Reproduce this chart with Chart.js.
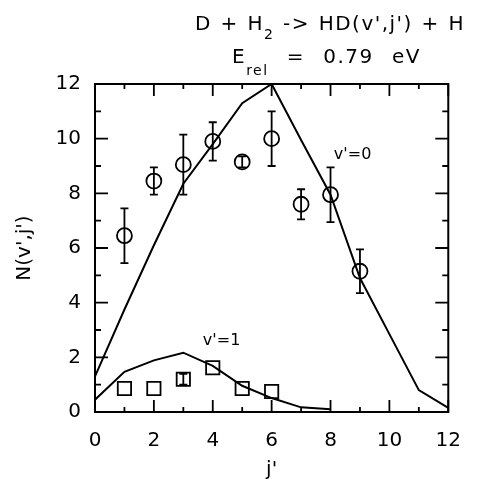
<!DOCTYPE html>
<html>
<head>
<meta charset="utf-8">
<script src="https://cdn.jsdelivr.net/npm/chart.js@4.4.1/dist/chart.umd.min.js"></script>
<style>
  html, body { margin: 0; padding: 0; background: #fff; }
  #wrap { width: 478px; height: 482px; }
</style>
</head>
<body>
<div id="wrap"><canvas id="myChart" width="478" height="482"></canvas></div>
<script>
// j' values and populations
const jCalc = [0, 1, 2, 3, 4, 5, 6, 7, 8, 9, 10, 11, 12];
const calcV0 = [1.3, 3.75, 6.1, 8.35, 9.8, 11.3, 12.0, 9.95, 7.95, 4.9, 2.85, 0.8, 0.15];
const jCalcV1 = [0, 1, 2, 3, 4, 5, 6, 7, 8];
const calcV1 = [0.45, 1.47, 1.89, 2.17, 1.69, 0.96, 0.51, 0.17, 0.1];

const jExpV0 = [1, 2, 3, 4, 5, 6, 7, 8, 9];
const expV0 = [6.45, 8.45, 9.05, 9.9, 9.15, 10.0, 7.6, 7.95, 5.15];
const errV0 = [1.0, 0.5, 1.1, 0.7, 0.2, 1.0, 0.55, 1.0, 0.8];

const jExpV1 = [1, 2, 3, 4, 5, 6];
const expV1 = [0.86, 0.86, 1.2, 1.62, 0.86, 0.75];
const errV1 = [0, 0, 0.2, 0, 0, 0];

const xTicks = [0, 2, 4, 6, 8, 10, 12];
const yTicks = [0, 2, 4, 6, 8, 10, 12];

const FONT = 'DejaVu Sans';
const toXY = (xs, ys) => xs.map((x, i) => ({ x: x, y: ys[i] }));

// inward tick marks on all four sides + top/right frame
const frame = {
    id: 'frame',
    afterDraw(chart) {
        const { ctx, chartArea: a, scales: { x, y } } = chart;
        ctx.save();
        ctx.strokeStyle = '#000';
        ctx.lineWidth = 2;
        ctx.strokeRect(a.left, a.top, a.right - a.left, a.bottom - a.top);
        ctx.lineWidth = 1.8;
        for (let v = 0; v <= 12; v++) {
            const px = x.getPixelForValue(v);
            const len = v % 2 === 0 ? 12 : 5;
            ctx.beginPath();
            ctx.moveTo(px, a.bottom); ctx.lineTo(px, a.bottom - len);
            ctx.moveTo(px, a.top); ctx.lineTo(px, a.top + len);
            ctx.stroke();
            const py = y.getPixelForValue(v);
            ctx.beginPath();
            ctx.moveTo(a.left, py); ctx.lineTo(a.left + len + 1, py);
            ctx.moveTo(a.right, py); ctx.lineTo(a.right - len - 1, py);
            ctx.stroke();
        }
        ctx.restore();
    }
};

const errorBars = {
    id: 'errorBars',
    afterDatasetsDraw(chart) {
        const { ctx, scales: { x, y } } = chart;
        ctx.save();
        ctx.strokeStyle = '#000';
        ctx.lineWidth = 1.8;
        chart.data.datasets.forEach(ds => {
            if (!ds.errors) return;
            ds.data.forEach((p, i) => {
                const e = ds.errors[i];
                if (!e) return;
                const px = x.getPixelForValue(p.x);
                const y1 = y.getPixelForValue(p.y + e);
                const y2 = y.getPixelForValue(p.y - e);
                ctx.beginPath();
                ctx.moveTo(px, y1); ctx.lineTo(px, y2);
                ctx.moveTo(px - 4, y1); ctx.lineTo(px + 4, y1);
                ctx.moveTo(px - 4, y2); ctx.lineTo(px + 4, y2);
                ctx.stroke();
            });
        });
        ctx.restore();
    }
};

// title lines: words separated by wide gaps, subscripts drawn smaller and lower
const texts = {
    id: 'texts',
    afterDraw(chart) {
        const { ctx, scales: { x, y } } = chart;
        ctx.save();
        ctx.fillStyle = '#000';
        ctx.textBaseline = 'alphabetic';
        ctx.letterSpacing = '1.5px';
        const widthOf = word => word.reduce((s, [t, size]) => {
            ctx.font = size + 'px "' + FONT + '"';
            return s + ctx.measureText(t).width;
        }, 0);
        const line = (words, startX, endX, baseY) => {
            const total = words.reduce((s, w) => s + widthOf(w), 0);
            const gap = (endX - startX - total) / (words.length - 1);
            let cx = startX;
            words.forEach(word => {
                word.forEach(([t, size, dy]) => {
                    ctx.font = size + 'px "' + FONT + '"';
                    ctx.fillText(t, cx, baseY + dy);
                    cx += ctx.measureText(t).width;
                });
                cx += gap;
            });
        };
        line([[['D', 20, 0]], [['+', 20, 0]], [['H', 20, 0], ['2', 14, 9]], [['->', 20, 0]],
              [["HD(v',j')", 20, 0]], [['+', 20, 0]], [['H', 20, 0]]], 195, 465, 30);
        line([[['E', 20, 0], ['rel', 14, 12]], [['=', 20, 0]], [['0.79', 20, 0]], [['eV', 20, 0]]], 232, 421, 63);
        ctx.letterSpacing = '0px';
        ctx.font = '16px "' + FONT + '"';
        ctx.textAlign = 'center';
        ctx.fillText("v'=0", x.getPixelForValue(8.75), y.getPixelForValue(9.25));
        ctx.fillText("v'=1", x.getPixelForValue(4.3), y.getPixelForValue(2.45));
        ctx.restore();
    }
};

const ctx = document.getElementById('myChart').getContext('2d');

const myChart = new Chart(ctx, {
    type: 'scatter',
    data: {
        datasets: [
            {
                label: "calc v'=0",
                data: toXY(jCalc, calcV0),
                showLine: true,
                borderColor: '#000',
                borderWidth: 2,
                pointRadius: 0,
                tension: 0,
            },
            {
                label: "calc v'=1",
                data: toXY(jCalcV1, calcV1),
                showLine: true,
                borderColor: '#000',
                borderWidth: 2,
                pointRadius: 0,
                tension: 0,
            },
            {
                label: "exp v'=0",
                data: toXY(jExpV0, expV0),
                errors: errV0,
                pointStyle: 'circle',
                pointRadius: 7.5,
                borderColor: '#000',
                backgroundColor: 'rgba(0,0,0,0)',
                borderWidth: 1.8,
            },
            {
                label: "exp v'=1",
                data: toXY(jExpV1, expV1),
                errors: errV1,
                pointStyle: 'rect',
                pointRadius: 9.4,
                borderColor: '#000',
                backgroundColor: 'rgba(0,0,0,0)',
                borderWidth: 1.8,
            },
        ],
    },
    options: {
        responsive: false,
        animation: false,
        events: [],
        layout: { padding: { top: 84, right: 16, left: 0, bottom: 0 } },
        plugins: {
            legend: { display: false },
            tooltip: { enabled: false },
        },
        scales: {
            x: {
                type: 'linear',
                min: 0,
                max: 12,
                afterFit: s => { s.height = 70; },
                afterBuildTicks: s => { s.ticks = xTicks.map(v => ({ value: v })); },
                grid: { display: false, drawTicks: false },
                border: { display: false },
                ticks: { color: '#000', padding: 17, maxRotation: 0, font: { family: FONT, size: 20 } },
                title: { display: true, text: "j'", color: '#000', padding: { top: 0, bottom: 0 }, font: { family: FONT, size: 20 } },
            },
            y: {
                type: 'linear',
                min: 0,
                max: 12,
                afterFit: s => { s.width = 95; },
                afterBuildTicks: s => { s.ticks = yTicks.map(v => ({ value: v })); },
                grid: { display: false, drawTicks: false },
                border: { display: false },
                ticks: { color: '#000', padding: 14, font: { family: FONT, size: 20 } },
                title: { display: true, text: "N(v',j')", color: '#000', padding: { top: 13, bottom: 0 }, font: { family: FONT, size: 20 } },
            },
        },
    },
    plugins: [frame, errorBars, texts],
});
</script>
</body>
</html>
